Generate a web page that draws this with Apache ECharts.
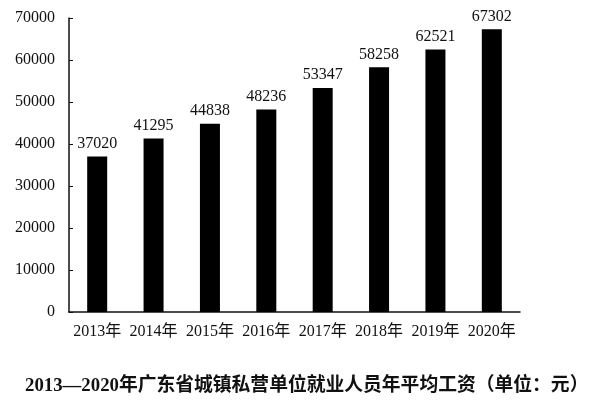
<!DOCTYPE html>
<html>
<head>
<meta charset="utf-8">
<script src="https://cdn.jsdelivr.net/npm/echarts@6/dist/echarts.min.js"></script>
<style>
  html, body { margin: 0; padding: 0; background: #fff; }
  #chart { width: 590px; height: 402px; }
</style>
</head>
<body>
<div id="chart"></div>
<script>
  // data
  const years = ['2013年', '2014年', '2015年', '2016年', '2017年', '2018年', '2019年', '2020年'];
  const wages = [37020, 41295, 44838, 48236, 53347, 58258, 62521, 67302];
  const titleText = '2013—2020年广东省城镇私营单位就业人员年平均工资（单位：元）';

  const font = '"Liberation Serif", "Noto Sans CJK SC", serif';

  let myChart = echarts.init(document.getElementById('chart'));
  let option = {
    animation: false,
    backgroundColor: '#fff',
    title: {
      text: titleText,
      left: 20,
      top: 372,
      textStyle: {
        fontFamily: font,
        fontSize: 18.8,
        fontWeight: 'bold',
        color: '#111'
      }
    },
    grid: {
      left: 69,
      right: 70,
      top: 18,
      bottom: 90,
      containLabel: false
    },
    xAxis: {
      type: 'category',
      data: years,
      axisLine: { lineStyle: { color: '#111', width: 1.5 } },
      axisTick: { inside: true, length: 4, lineStyle: { color: '#111' } },
      axisLabel: {
        interval: 0,
        margin: 12,
        fontFamily: font,
        fontSize: 16,
        color: '#111'
      }
    },
    yAxis: {
      type: 'value',
      min: 0,
      max: 70000,
      interval: 10000,
      splitLine: { show: false },
      axisLine: { show: true, lineStyle: { color: '#111', width: 1.5 } },
      axisTick: { show: true, inside: true, length: 4, lineStyle: { color: '#111' } },
      axisLabel: {
        margin: 14,
        fontFamily: font,
        fontSize: 16,
        color: '#111',
        formatter: function (v) { return String(v); }
      }
    },
    series: [
      {
        type: 'bar',
        data: wages,
        barWidth: 20,
        itemStyle: { color: '#000' },
        label: {
          show: true,
          position: 'top',
          distance: 5,
          fontFamily: font,
          fontSize: 16,
          color: '#111'
        }
      }
    ]
  };
  myChart.setOption(option);
</script>
</body>
</html>
